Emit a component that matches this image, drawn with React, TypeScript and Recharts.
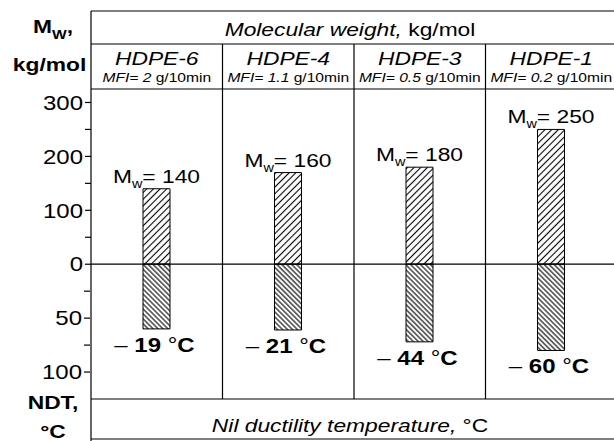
import { BarChart, Bar, XAxis, YAxis, ReferenceLine, LabelList } from "recharts";

const grades = ["HDPE-6", "HDPE-4", "HDPE-3", "HDPE-1"];
const mfi = ["2", "1.1", "0.5", "0.2"];
const mwBars = [140, 170, 180, 250];
const mwLabels = ["140", "160", "180", "250"];
const ndtBars = [60, 61, 72, 80];
const ndtLabels = ["19", "21", "44", "60"];

const mwTicks = [0, 50, 100, 150, 200, 250, 300];
const mwTickLabels = [0, 100, 200, 300];
const ndtTicks = [25, 50, 75, 100];
const ndtTickLabels = [50, 100];
const xTicks = [0, 0.5, 1, 1.5, 2, 2.5, 3, 3.5, 4];
const dividers = [1, 2, 3];

const FONT = "'Liberation Sans', Arial, sans-serif";
const SX = 1.2; // text in the original is stretched sideways
const W = 620;
const H = 441;
const PLOT_LEFT = 91;
const PLOT_RIGHT = 3;
const PLOT_TOP = 89;
const COL_W = (W - PLOT_LEFT - PLOT_RIGHT) / grades.length;

const data = grades.map((g, i) => ({
  grade: g,
  pos: i + 0.5,
  mw: mwBars[i],
  mwLabel: mwLabels[i],
  ndt: ndtBars[i],
  ndtLabel: ndtLabels[i],
}));

const renderYTick = (props: any, labels: number[]) => {
  const { x, y, payload } = props;
  if (!labels.includes(payload.value)) return <g />;
  return (
    <text
      transform={`translate(${x},${y}) scale(${SX},1)`}
      textAnchor="end"
      dy="0.36em"
      fontSize={20}
      fontFamily={FONT}
      fill="#000"
    >
      {payload.value}
    </text>
  );
};

function MwLabel(props: any) {
  const vb = props.viewBox || props;
  const cx = vb.x + vb.width / 2;
  const top = Math.min(vb.y, vb.y + vb.height);
  return (
    <text
      transform={`translate(${cx},${top - 6}) scale(${SX},1)`}
      textAnchor="middle"
      fontSize={19}
      fontFamily={FONT}
      fill="#000"
    >
      M
      <tspan fontSize={12} dy={5}>
        w
      </tspan>
      <tspan dy={-5}>= {props.value}</tspan>
    </text>
  );
}

function NdtLabel(props: any) {
  const vb = props.viewBox || props;
  const cx = vb.x + vb.width / 2;
  const bottom = Math.max(vb.y, vb.y + vb.height);
  return (
    <text
      transform={`translate(${cx - 2},${bottom + 23}) scale(${SX},1)`}
      textAnchor="middle"
      fontSize={20}
      fontWeight="bold"
      fontFamily={FONT}
      fill="#000"
    >
      <tspan fontWeight="normal">{"\u2013 "}</tspan>
      {props.value}
      <tspan fontWeight="normal">{" \u00b0"}</tspan>C
    </text>
  );
}

function Header() {
  const line = { stroke: "#000", strokeWidth: 1.2 };
  const mid = PLOT_LEFT + (W - PLOT_LEFT - PLOT_RIGHT) / 2 - 4;
  return (
    <svg
      width={W}
      height={H}
      style={{ position: "absolute", left: 0, top: 0, pointerEvents: "none" }}
      fontFamily={FONT}
    >
      <line x1={PLOT_LEFT} y1={11} x2={W} y2={11} {...line} />
      <line x1={PLOT_LEFT} y1={44} x2={W} y2={44} {...line} />
      <line x1={PLOT_LEFT} y1={PLOT_TOP} x2={W} y2={PLOT_TOP} {...line} />
      <line x1={PLOT_LEFT} y1={439} x2={W} y2={439} {...line} />
      <line x1={PLOT_LEFT} y1={11} x2={PLOT_LEFT} y2={H} {...line} />
      {dividers.map((d) => (
        <line key={d} x1={PLOT_LEFT + d * COL_W} y1={44} x2={PLOT_LEFT + d * COL_W} y2={PLOT_TOP} {...line} />
      ))}

      <text transform={`translate(${mid},36) scale(${SX},1)`} textAnchor="middle" fontSize={19}>
        <tspan fontStyle="italic">Molecular weight,</tspan>
        {" kg/mol"}
      </text>
      {grades.map((g, i) => (
        <g key={g}>
          <text
            transform={`translate(${PLOT_LEFT + (i + 0.5) * COL_W},65) scale(${SX},1)`}
            textAnchor="middle"
            fontSize={19}
            fontStyle="italic"
          >
            {g}
          </text>
          <text
            transform={`translate(${PLOT_LEFT + (i + 0.5) * COL_W},82) scale(${SX},1)`}
            textAnchor="middle"
            fontSize={13}
          >
            <tspan fontStyle="italic">MFI= {mfi[i]}</tspan>
            {" g/10min"}
          </text>
        </g>
      ))}

      <text transform={`translate(33,33) scale(${SX},1)`} fontSize={19} fontWeight="bold">
        M
        <tspan fontSize={13} dy={6}>
          W
        </tspan>
        <tspan dy={-6}>,</tspan>
      </text>
      <text transform={`translate(49.5,71) scale(${SX},1)`} textAnchor="middle" fontSize={19} fontWeight="bold">
        kg/mol
      </text>
      <text transform={`translate(53,409) scale(${SX},1)`} textAnchor="middle" fontSize={19} fontWeight="bold">
        NDT,
      </text>
      <text transform={`translate(53,438) scale(${SX},1)`} textAnchor="middle" fontSize={19} fontWeight="bold">
        {"\u00b0C"}
      </text>
      <text transform={`translate(${mid},432) scale(${SX},1)`} textAnchor="middle" fontSize={19}>
        <tspan fontStyle="italic">Nil ductility temperature,</tspan>
        {" \u00b0C"}
      </text>
    </svg>
  );
}

export default function App() {
  return (
    <div
      style={{
        position: "absolute",
        left: 0,
        top: 0,
        width: 614,
        height: H,
        overflow: "hidden",
        background: "#fff",
      }}
    >
      <svg width={0} height={0} style={{ position: "absolute" }}>
        <defs>
          <pattern id="hatchUp" patternUnits="userSpaceOnUse" width={4.7} height={4.7} patternTransform="rotate(45)">
            <rect width={4.7} height={4.7} fill="#fff" />
            <line x1={2.35} y1={0} x2={2.35} y2={4.7} stroke="#000" strokeWidth={1.1} />
          </pattern>
          <pattern id="hatchDown" patternUnits="userSpaceOnUse" width={3.5} height={3.5} patternTransform="rotate(-45)">
            <rect width={3.5} height={3.5} fill="#fff" />
            <line x1={1.75} y1={0} x2={1.75} y2={3.5} stroke="#000" strokeWidth={1.1} />
          </pattern>
        </defs>
      </svg>
      <BarChart
        width={W}
        height={H}
        data={data}
        margin={{ top: PLOT_TOP, right: PLOT_RIGHT, bottom: 0, left: 0 }}
      >
        <XAxis
          xAxisId="a"
          type="number"
          dataKey="pos"
          domain={[0, grades.length]}
          allowDataOverflow
          ticks={xTicks}
          interval={0}
          tick={false}
          tickSize={6}
          height={H - 399}
          axisLine={{ stroke: "#000", strokeWidth: 1.2 }}
          tickLine={{ stroke: "#000", strokeWidth: 1.2 }}
        />
        <XAxis xAxisId="b" type="number" dataKey="pos" domain={[0, grades.length]} allowDataOverflow hide />
        {/* the NDT axis sits outside, the Mw axis next to the plot; both tick at the same line */}
        <YAxis
          yAxisId="ndt"
          width={PLOT_LEFT - 1}
          type="number"
          reversed
          domain={[-162.5, 125]}
          allowDataOverflow
          ticks={ndtTicks}
          interval={0}
          axisLine={false}
          tickSize={6}
          tickMargin={2}
          tickLine={{ stroke: "#000", strokeWidth: 1.2 }}
          tick={(p: any) => renderYTick(p, ndtTickLabels)}
        />
        <YAxis
          yAxisId="mw"
          width={1}
          type="number"
          domain={[-250, 325]}
          allowDataOverflow
          ticks={mwTicks}
          interval={0}
          axisLine={false}
          tickSize={6}
          tickMargin={2}
          tickLine={{ stroke: "#000", strokeWidth: 1.2 }}
          tick={(p: any) => renderYTick(p, mwTickLabels)}
        />
        {dividers.map((d) => (
          <ReferenceLine key={d} x={d} xAxisId="a" yAxisId="mw" stroke="#000" strokeWidth={1.2} />
        ))}
        <ReferenceLine y={0} xAxisId="a" yAxisId="mw" stroke="#000" strokeWidth={1.2} />
        <Bar
          dataKey="mw"
          xAxisId="a"
          yAxisId="mw"
          barSize={27}
          fill="url(#hatchUp)"
          stroke="#000"
          strokeWidth={1}
          isAnimationActive={false}
        >
          <LabelList dataKey="mwLabel" content={MwLabel} />
        </Bar>
        <Bar
          dataKey="ndt"
          xAxisId="b"
          yAxisId="ndt"
          barSize={27}
          fill="url(#hatchDown)"
          stroke="#000"
          strokeWidth={1}
          isAnimationActive={false}
        >
          <LabelList dataKey="ndtLabel" content={NdtLabel} />
        </Bar>
      </BarChart>
      <Header />
    </div>
  );
}
